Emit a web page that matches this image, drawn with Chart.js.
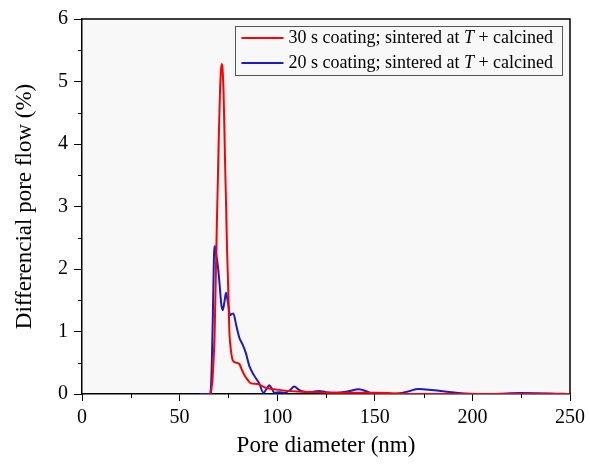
<!DOCTYPE html>
<html>
<head>
<meta charset="utf-8">
<script src="https://cdn.jsdelivr.net/npm/chart.js@4.4.1/dist/chart.umd.min.js"></script>
<style>
    html, body { margin: 0; padding: 0; background: #ffffff; }
</style>
</head>
<body>
<canvas id="grafica" width="590" height="465"></canvas>
<script>
// ─────────────────────────────────────────────────────────────────
// DATOS
// ─────────────────────────────────────────────────────────────────
const diametroRojo = [66, 67, 68, 69, 70, 70.7, 71.2, 71.6, 72.0, 72.5, 73.1, 74.1, 75.5, 76.3, 77.2, 79, 80.6, 82, 83.2, 85, 86.6, 90, 94, 100, 105, 110, 120, 130, 140, 150, 160, 170, 200, 250];
const flujoRojo = [0, 0.3, 1.05, 2.6, 4.0, 4.85, 5.18, 5.28, 5.2, 4.85, 4.0, 2.6, 1.0, 0.7, 0.54, 0.5, 0.48, 0.38, 0.3, 0.22, 0.17, 0.16, 0.1, 0.07, 0.05, 0.04, 0.03, 0.02, 0.02, 0.02, 0.01, 0, 0, 0];

const diametroAzul = [60.5, 65.5, 66.2, 67, 67.6, 67.95, 68.3, 68.8, 69.6, 70.5, 71.3, 72.1, 73, 73.8, 74.8, 75.9, 76.7, 77.5, 79, 80.6, 82.3, 84, 85.7, 88.3, 90.8, 92.9, 94.5, 95.9, 97.3, 98.5, 101, 104, 106.5, 108.7, 111, 113, 117, 121.4, 125, 130.7, 136, 141.8, 146, 149.5, 155, 162, 167, 172.4, 179, 186, 196, 210, 225, 240, 250];
const flujoAzul = [0, 0, 0.2, 1.2, 2.2, 2.37, 2.32, 2.22, 2.05, 1.75, 1.45, 1.34, 1.48, 1.62, 1.45, 1.26, 1.28, 1.29, 1.1, 0.9, 0.79, 0.65, 0.45, 0.29, 0.17, 0.02, 0.08, 0.14, 0.08, 0.02, 0.03, 0.02, 0.06, 0.12, 0.07, 0.04, 0.03, 0.05, 0.03, 0.02, 0.04, 0.075, 0.04, 0, 0, 0.01, 0.04, 0.08, 0.065, 0.04, 0.01, 0, 0.015, 0.01, 0];

const etiquetasSeries = ['30 s coating; sintered at T + calcined', '20 s coating; sintered at T + calcined'];
const ticksX = [0, 50, 100, 150, 200, 250];
const ticksY = [0, 1, 2, 3, 4, 5, 6];

const FUENTE = '"Liberation Serif", "Times New Roman", serif';

const puntos = (xs, ys) => xs.map((x, i) => ({ x: x, y: ys[i] }));

// fondo gris del área y marco superior/derecho
const marco = {
    id: 'marco',
    beforeDraw(chart) {
        const { ctx, chartArea: a } = chart;
        ctx.save();
        ctx.fillStyle = '#f8f8f8';
        ctx.fillRect(a.left, a.top, a.right - a.left, a.bottom - a.top);
        ctx.restore();
    },
    afterDraw(chart) {
        const { ctx, chartArea: a } = chart;
        ctx.save();
        ctx.strokeStyle = '#000';
        ctx.lineWidth = 1.5;
        ctx.beginPath();
        ctx.moveTo(a.left, a.top);
        ctx.lineTo(a.right, a.top);
        ctx.lineTo(a.right, a.bottom);
        ctx.stroke();

        // ticks menores (más cortos)
        ctx.lineWidth = 1;
        const sx = chart.scales.x, sy = chart.scales.y;
        for (let v = 25; v < 250; v += 50) {
            const px = Math.round(sx.getPixelForValue(v)) + 0.5;
            ctx.beginPath();
            ctx.moveTo(px, a.bottom);
            ctx.lineTo(px, a.bottom + 4);
            ctx.stroke();
        }
        for (let v = 0.5; v < 6; v += 1) {
            const py = Math.round(sy.getPixelForValue(v)) + 0.5;
            ctx.beginPath();
            ctx.moveTo(a.left, py);
            ctx.lineTo(a.left - 4, py);
            ctx.stroke();
        }
        ctx.restore();
    }
};

// leyenda dentro del área, con T en cursiva
const leyenda = {
    id: 'leyenda',
    afterDraw(chart) {
        const { ctx, chartArea: a } = chart;
        const normal = '18px ' + FUENTE;
        const cursiva = 'italic 18px ' + FUENTE;
        ctx.save();
        const partes = etiquetasSeries.map(t => {
            const i = t.indexOf(' T ');
            return [t.slice(0, i + 1), 'T', t.slice(i + 2)];
        });
        const ancho = p => {
            ctx.font = normal;
            let w = ctx.measureText(p[0]).width + ctx.measureText(p[2]).width;
            ctx.font = cursiva;
            return w + ctx.measureText(p[1]).width;
        };
        const maxW = Math.max(...partes.map(ancho));
        const w = 6 + 42 + 5 + maxW + 9;
        const h = 49;
        const x0 = a.right - 8 - w;
        const y0 = a.top + 7;
        ctx.strokeStyle = '#555';
        ctx.lineWidth = 1;
        ctx.strokeRect(Math.round(x0) + 0.5, Math.round(y0) + 0.5, Math.round(w), h);

        chart.data.datasets.forEach((ds, i) => {
            const yy = y0 + 12 + i * 25;
            ctx.strokeStyle = ds.borderColor;
            ctx.lineWidth = 2;
            ctx.beginPath();
            ctx.moveTo(x0 + 6, yy);
            ctx.lineTo(x0 + 48, yy);
            ctx.stroke();
            ctx.fillStyle = '#000';
            ctx.textBaseline = 'middle';
            let xt = x0 + 53;
            const p = partes[i];
            ctx.font = normal;
            ctx.fillText(p[0], xt, yy);
            xt += ctx.measureText(p[0]).width;
            ctx.font = cursiva;
            ctx.fillText(p[1], xt, yy);
            xt += ctx.measureText(p[1]).width;
            ctx.font = normal;
            ctx.fillText(p[2], xt, yy);
        });
        ctx.restore();
    }
};

new Chart(document.getElementById('grafica'), {
    type: 'scatter',
    data: {
        datasets: [
            {
                label: etiquetasSeries[0],
                data: puntos(diametroRojo, flujoRojo),
                borderColor: '#ff0000',
                showLine: true,
                borderWidth: 2,
                pointRadius: 0,
                cubicInterpolationMode: 'monotone'
            },
            {
                label: etiquetasSeries[1],
                data: puntos(diametroAzul, flujoAzul),
                borderColor: '#1a1ac8',
                showLine: true,
                borderWidth: 2,
                pointRadius: 0,
                cubicInterpolationMode: 'monotone'
            }
        ]
    },
    options: {
        responsive: false,
        devicePixelRatio: 1,
        animation: false,
        layout: { padding: { top: 19, right: 18, left: 0, bottom: 0 } },
        plugins: {
            legend: { display: false },
            tooltip: { enabled: false }
        },
        scales: {
            x: {
                type: 'linear',
                min: 0,
                max: 250,
                afterFit: s => { s.height = 71; },
                ticks: {
                    stepSize: 50,
                    autoSkip: false,
                    maxRotation: 0,
                    padding: 5,
                    color: '#000',
                    font: { family: FUENTE, size: 20 },
                    callback: v => ticksX.includes(v) ? v : ''
                },
                grid: { drawOnChartArea: false, tickLength: 7, tickColor: '#000' },
                border: { color: '#000', width: 1.5 },
                title: {
                    display: true,
                    text: 'Pore diameter (nm)',
                    color: '#000',
                    font: { family: FUENTE, size: 23 },
                    padding: { top: 0, bottom: 5 }
                }
            },
            y: {
                min: 0,
                max: 6,
                afterFit: s => { s.width = 82; },
                ticks: {
                    stepSize: 1,
                    autoSkip: false,
                    padding: 6,
                    color: '#000',
                    font: { family: FUENTE, size: 20 },
                    callback: v => ticksY.includes(v) ? v : ''
                },
                grid: { drawOnChartArea: false, tickLength: 8, tickColor: '#000' },
                border: { color: '#000', width: 1.5 },
                title: {
                    display: true,
                    text: 'Differencial pore flow (%)',
                    color: '#000',
                    font: { family: FUENTE, size: 23 },
                    padding: { top: 11, bottom: 0 }
                }
            }
        }
    },
    plugins: [marco, leyenda]
});
</script>
</body>
</html>
